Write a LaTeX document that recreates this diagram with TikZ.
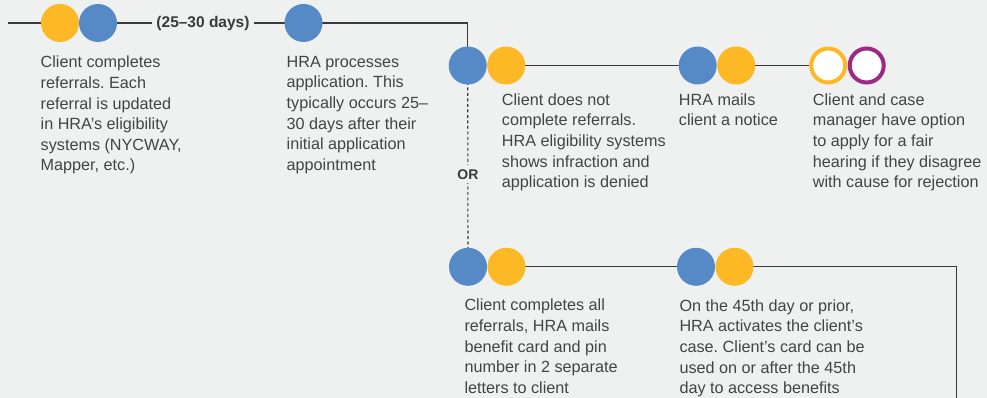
\documentclass[tikz,border=0pt]{standalone}
\usepackage{fontspec}
\setmainfont{Liberation Sans}
\frenchspacing
\definecolor{bg}{HTML}{EFF0F0}
\definecolor{blu}{HTML}{568AC7}
\definecolor{yel}{HTML}{FDB825}
\definecolor{pur}{HTML}{9A2A86}
\definecolor{ln}{HTML}{3A3A3A}
\definecolor{txt}{HTML}{444444}
\begin{document}
\begin{tikzpicture}[x=1pt,y=-1pt,
  dot/.style={circle,minimum size=38pt,inner sep=0pt,outer sep=0pt},
  ring/.style={circle,draw,line width=4pt,fill=white,minimum size=34pt,inner sep=0pt,outer sep=0pt},
  conn/.style={draw=ln,line width=1.2pt},
  dashconn/.style={draw=ln,line width=1.1pt,dash pattern=on 3pt off 2.5pt},
  desc/.style={anchor=north west,inner sep=0pt,align=left,text=txt,font=\fontsize{16.2}{20.6}\selectfont},
  boldlbl/.style={fill=bg,inner xsep=4pt,inner ysep=2pt,text=ln,font=\fontsize{15.5}{17}\selectfont\bfseries},
  orlbl/.style={fill=bg,inner xsep=2pt,inner ysep=4pt,text=ln,font=\fontsize{14}{15}\selectfont\bfseries}]
\useasboundingbox[fill=bg] (0,0) rectangle (987,398);

% coordinates
\coordinate (start) at (8,23);
\coordinate (end) at (956.7,398);

% placeholders for line routing
\node[dot] (y1p) at (60,23) {};
\node[dot] (b1p) at (98,23) {};
\node[boldlbl] (days) at (203,23) {(25–30 days)};
\node[dot] (b3p) at (303.5,23) {};
\node[dot] (b4p) at (467.7,65.5) {};
\node[dot] (y4p) at (506.2,65.5) {};
\node[dot] (b5p) at (697.7,65.5) {};
\node[dot] (y5p) at (736.2,65.5) {};
\node[dot] (o1p) at (828.2,65.5) {};
\node[dot] (b6p) at (468,266.8) {};
\node[dot] (y6p) at (506.5,266.8) {};
\node[dot] (b7p) at (696,266.8) {};
\node[dot] (y7p) at (734.5,266.8) {};

\draw[conn] (start) -- (y1p.center);
\draw[conn] (b1p.center) -- (days);
\draw[conn] (days) -- (b3p.center);
\draw[conn] (b3p.center) -| (b4p.center);
\draw[conn] (y4p.center) -- (b5p.center);
\draw[conn] (y5p.center) -- (o1p.center);
\draw[dashconn] (b4p.center) -- node[orlbl,pos=0.54] (or) {OR} (b6p.center);
\draw[conn] (y6p.center) -- (b7p.center);
\draw[conn] (y7p.center) -| (end);
\node[boldlbl] at (days) {(25–30 days)};
\node[orlbl] at (or) {OR};

% circles
\node[dot,fill=yel] (y1) at (y1p) {};
\node[dot,fill=blu] (b1) at (b1p) {};
\node[dot,fill=blu] (b3) at (b3p) {};
\node[dot,fill=blu] (b4) at (b4p) {};
\node[dot,fill=yel] (y4) at (y4p) {};
\node[dot,fill=blu] (b5) at (b5p) {};
\node[dot,fill=yel] (y5) at (y5p) {};
\node[ring,draw=yel] (o1) at (828.2,65.5) {};
\node[ring,draw=pur] (o2) at (866.7,65.5) {};
\node[dot,fill=blu] (b6) at (b6p) {};
\node[dot,fill=yel] (y6) at (y6p) {};
\node[dot,fill=blu] (b7) at (b7p) {};
\node[dot,fill=yel] (y7) at (y7p) {};

% descriptions
\node[desc] (t1) at (40.5,56) {Client completes\\referrals. Each\\referral is updated\\in HRA’s eligibility\\systems (NYCWAY,\\Mapper, etc.)};
\node[desc] (t2) at (286.5,56) {HRA processes\\application. This\\typically occurs 25–\\30 days after their\\initial application\\appointment};
\node[desc] (t3) at (501.7,93.3) {Client does not\\complete referrals.\\HRA eligibility systems\\shows infraction and\\application is denied};
\node[desc] (t4) at (678.7,93.3) {HRA mails\\client a notice};
\node[desc] (t5) at (812.7,93.3) {Client and case\\manager have option\\to apply for a fair\\hearing if they disagree\\with cause for rejection};
\node[desc] (t6) at (464.3,299) {Client completes all\\referrals, HRA mails\\benefit card and pin\\number in 2 separate\\letters to client};
\node[desc] (t7) at (679.3,299.3) {On the 45th day or prior,\\HRA activates the client’s\\case. Client’s card can be\\used on or after the 45th\\day to access benefits};
\end{tikzpicture}
\end{document}
